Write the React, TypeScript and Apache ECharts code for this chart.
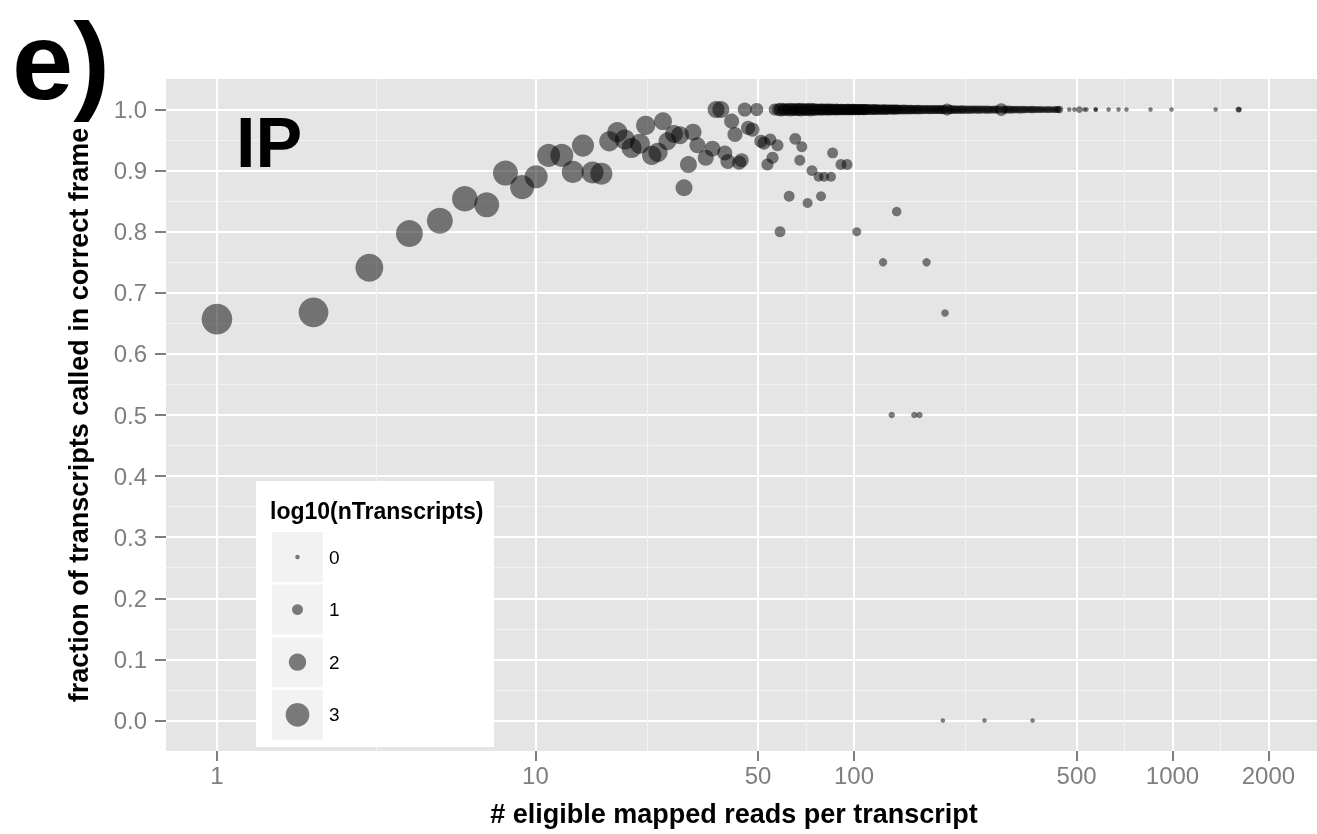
import React, { useEffect, useRef } from "react";
import * as echarts from "echarts";

// Axis breaks
const X_TICKS = [1, 10, 50, 100, 500, 1000, 2000];
const Y_TICKS = [0, 0.1, 0.2, 0.3, 0.4, 0.5, 0.6, 0.7, 0.8, 0.9, 1.0];
const LEGEND_VALUES = [0, 1, 2, 3];

// Panel limits (ggplot expanded range)
const X_MIN = 0.692;
const X_MAX = 2842;
const Y_MIN = -0.05;
const Y_MAX = 1.05;

// [reads per transcript, fraction in correct frame, log10(nTranscripts)]
const OTHER_POINTS: [number, number, number][] = [
  [1.0, 0.657, 4.1], [2.01, 0.668, 3.95], [3.01, 0.741, 3.65], [4.02, 0.797, 3.5],
  [5.01, 0.818, 3.35], [6.0, 0.854, 3.3], [7.03, 0.844, 3.2], [8.05, 0.896, 3.2],
  [9.08, 0.873, 3.05], [10.05, 0.89, 2.9], [11.0, 0.925, 2.9], [12.1, 0.925, 2.9],
  [13.1, 0.898, 2.75], [14.1, 0.941, 2.75], [15.1, 0.897, 2.75], [16.1, 0.895, 2.75],
  [17.05, 0.948, 2.45], [18.07, 0.963, 2.45], [19.09, 0.951, 2.45], [20.04, 0.937, 2.45],
  [21.28, 0.944, 2.45], [22.18, 0.974, 2.3], [23.17, 0.925, 2.3], [24.25, 0.93, 2.3],
  [25.14, 0.981, 2.1], [25.96, 0.948, 2.1], [27.22, 0.96, 2.1], [28.43, 0.958, 2.1],
  [29.27, 0.872, 1.95], [30.22, 0.91, 1.95], [31.24, 0.963, 1.95], [32.25, 0.9415, 1.8],
  [34.24, 0.921, 1.8], [35.95, 0.936, 1.8], [36.9, 1.0, 1.95], [38.2, 1.0, 1.95],
  [39.3, 0.929, 1.65], [40.2, 0.915, 1.65], [41.3, 0.981, 1.65], [42.3, 0.959, 1.65],
  [43.6, 0.913, 1.5], [44.4, 0.917, 1.5], [45.4, 1.0, 1.5], [46.5, 0.97, 1.5],
  [48.0, 0.967, 1.5], [49.5, 1.0, 1.35], [51.0, 0.948, 1.35], [52.2, 0.945, 1.35],
  [53.5, 0.91, 1.2], [54.6, 0.951, 1.2], [55.5, 0.921, 1.2], [56.4, 1.0, 1.2],
  [57.5, 0.9415, 1.2], [58.6, 0.8, 1.0], [62.6, 0.858, 1.0], [65.4, 0.952, 1.15],
  [67.6, 0.917, 1.0], [68.6, 0.939, 1.0], [71.5, 0.847, 0.85], [73.8, 0.9, 1.0],
  [77.4, 0.89, 0.85], [78.8, 0.858, 0.85], [80.6, 0.89, 0.85], [84.7, 0.89, 0.85],
  [85.7, 0.929, 1.0], [91.0, 0.91, 1.0], [95.1, 0.91, 1.0], [102.0, 0.8, 0.7],
  [136.2, 0.833, 0.78], [123.4, 0.75, 0.6], [169.0, 0.75, 0.6], [193.1, 0.667, 0.48],
  [131.4, 0.5, 0.3], [154.7, 0.5, 0.3], [160.5, 0.5, 0.3],
  [190.1, 0, 0], [256.9, 0, 0], [363.6, 0, 0],
];

// Points at fraction 1.0: [reads per transcript, log10(nTranscripts)]
const ROW_ONE: [number, number][] = [
  [58, 1.3], [59, 1.45], [60, 1.25], [61, 1.3], [62, 1.2], [63, 1.45], [64, 1.3],
  [65, 1.2], [66, 1.35], [67, 1.25], [68, 1.45], [69, 1.2], [70, 1.3], [71, 1.25],
  [72, 1.2], [73, 1.45], [74, 1.15], [75, 1.25], [76, 1.2], [77, 1.1], [78, 1.2],
  [79, 1.15], [80, 1.2], [81, 1.1], [82, 1.15], [83, 1.2], [84, 1.1], [85, 1.15],
  [86, 1.1], [87, 1.05], [88, 1.15], [89, 1.1], [90, 1.05], [91, 1.1], [92, 1.1],
  [93, 1.05], [94, 1.05], [95, 1.1], [96, 1.1], [97, 1.05], [98, 1.05], [99, 1.1],
  [100, 1.1], [101, 1.05], [102, 1.0], [103, 1.05], [104, 1.05], [105, 1.0], [106, 1.0],
  [107, 1.05], [108, 1.05], [109, 1.0], [110, 1.0], [111.5, 0.95], [113, 0.95],
  [114.5, 1.0], [116, 1.0], [117.5, 0.95], [119, 0.95], [120.5, 0.9], [122, 0.9],
  [123.5, 0.95], [125, 0.95], [126.5, 0.9], [128, 0.9], [129.5, 0.85], [131, 0.85],
  [132.5, 0.9], [134, 0.9], [135.5, 0.85], [137, 0.85], [138.5, 0.8], [140, 0.8],
  [142, 0.85], [144, 0.85], [146, 0.8], [148, 0.8], [150, 0.8], [152, 0.8], [154, 0.75],
  [156, 0.75], [158, 0.8], [160, 0.8], [162.5, 0.75], [165, 0.75], [167.5, 0.7],
  [170, 0.7], [172.5, 0.75], [175, 0.75], [177.5, 0.7], [180, 0.7], [182.5, 0.7],
  [185, 0.7], [187.5, 0.75], [190, 0.75], [193, 0.7], [196, 1.2], [199, 0.7],
  [202, 0.7], [205, 0.65], [208, 0.65], [211, 0.6], [214, 0.6], [217, 0.65], [220, 0.65],
  [223.5, 0.6], [227, 0.6], [230.5, 0.6], [234, 0.6], [237.5, 0.55], [241, 0.55],
  [244.5, 0.6], [248, 0.6], [252, 0.55], [256, 0.55], [260, 0.6], [264, 0.6], [268, 0.5],
  [272, 0.5], [276, 0.55], [280, 0.55], [285, 0.5], [290, 1.3], [294, 0.5], [298, 0.5],
  [302.5, 0.55], [307, 0.55], [311.5, 0.5], [316, 0.5], [320.5, 0.45], [325, 0.45],
  [330, 0.5], [335, 0.5], [340, 0.45], [345, 0.45], [350, 0.4], [355, 0.4], [360, 0.45],
  [365, 0.45], [370.5, 0.4], [376, 0.4], [381.5, 0.4], [387, 0.4], [392.5, 0.35],
  [398, 0.35], [404, 0.4], [410, 0.4], [416, 0.35], [422, 0.35], [428, 0.4], [434, 0.4],
  [438, 0.4], [442, 0.45],
  [474, 0], [492, 0], [510, 0.35], [529, 0], [537, 0], [573, 0], [575, 0], [630, 0],
  [677, 0], [717, 0], [853, 0], [993, 0], [1366, 0], [1610, 0.2], [1618, 0.2],
];

const X_TITLE = "# eligible mapped reads per transcript";
const Y_TITLE = "fraction of transcripts called in correct frame";
const LEGEND_TITLE = "log10(nTranscripts)";

const sizeOf = (v: number) => 4.5 + 6.4 * v;

export default function App() {
  const ref = useRef<HTMLDivElement>(null);

  useEffect(() => {
    const chart = echarts.init(ref.current!, null, { renderer: "svg" });
    const font = '"Liberation Sans", Arial, Helvetica, sans-serif';
    const minorX = X_TICKS.slice(1).map((t, i) => Math.sqrt(t * X_TICKS[i]));
    const minorY = Y_TICKS.slice(1).map((t, i) => (t + Y_TICKS[i]) / 2);

    const pts = [
      ...OTHER_POINTS.map(([r, f, n]) => [r, f, n]),
      ...ROW_ONE.map(([r, n]) => [r, 1, n]),
    ];

    const Z = 100;
    const keyTop = 532;
    const keyPitch = 52.6;
    const legendChildren: any[] = [
      { type: "rect", z: Z, shape: { x: 256, y: 481, width: 238, height: 266 }, style: { fill: "#ffffff" } },
      {
        type: "text", z: Z + 1, x: 270, y: 511,
        style: { text: LEGEND_TITLE, fill: "#000", fontSize: 23, fontWeight: "bold", fontFamily: font, align: "left", verticalAlign: "middle" },
      },
    ];
    LEGEND_VALUES.forEach((v, i) => {
      const y0 = keyTop + i * keyPitch;
      legendChildren.push(
        { type: "rect", z: Z + 1, shape: { x: 272, y: y0, width: 51, height: 50 }, style: { fill: "#f2f2f2" } },
        { type: "circle", z: Z + 2, shape: { cx: 297.5, cy: y0 + 25, r: sizeOf(v) / 2 }, style: { fill: "rgba(0,0,0,0.5)" } },
        {
          type: "text", z: Z + 2, x: 329, y: y0 + 25,
          style: { text: String(v), fill: "#000", fontSize: 19, fontFamily: font, align: "left", verticalAlign: "middle" },
        }
      );
    });

    const grid = { left: 166, top: 79, width: 1151, height: 672, show: true, backgroundColor: "#e5e5e5", borderWidth: 0 };

    chart.setOption({
      animation: false,
      grid,
      xAxis: [
        {
          type: "log", logBase: 10, min: X_MIN, max: X_MAX, gridIndex: 0, position: "bottom",
          axisLine: { show: false, onZero: false },
          axisTick: { show: false, customValues: minorX },
          axisLabel: { show: false },
          splitLine: { show: true, lineStyle: { color: "#f2f2f2", width: 1.2 } },
        },
        {
          type: "log", logBase: 10, min: X_MIN, max: X_MAX, gridIndex: 0, position: "bottom",
          axisLine: { show: false, onZero: false },
          axisTick: { show: true, length: 10, customValues: X_TICKS, lineStyle: { color: "#7f7f7f", width: 2 } },
          axisLabel: {
            show: true, customValues: X_TICKS, margin: 12, color: "#7f7f7f", fontSize: 24, fontFamily: font,
            formatter: (v: number) => String(Math.round(v)),
          },
          splitLine: { show: true, lineStyle: { color: "#ffffff", width: 2 } },
        },
      ],
      yAxis: [
        {
          type: "value", min: Y_MIN, max: Y_MAX, gridIndex: 0, position: "left",
          axisLine: { show: false, onZero: false },
          axisTick: { show: false, customValues: minorY },
          axisLabel: { show: false },
          splitLine: { show: true, lineStyle: { color: "#f2f2f2", width: 1.2 } },
        },
        {
          type: "value", min: Y_MIN, max: Y_MAX, gridIndex: 0, position: "left",
          axisLine: { show: false, onZero: false },
          axisTick: { show: true, length: 11, customValues: Y_TICKS, lineStyle: { color: "#7f7f7f", width: 2 } },
          axisLabel: {
            show: true, customValues: Y_TICKS, margin: 19, color: "#7f7f7f", fontSize: 24, fontFamily: font,
            formatter: (v: number) => v.toFixed(1),
          },
          splitLine: { show: true, lineStyle: { color: "#ffffff", width: 2 } },
        },
      ],
      series: [
        {
          type: "scatter",
          xAxisIndex: 1,
          yAxisIndex: 1,
          data: pts,
          symbol: "circle",
          symbolSize: (d: number[]) => sizeOf(d[2]),
          itemStyle: { color: "#000000", opacity: 0.5, borderWidth: 0 },
          silent: true,
        },
      ],
      graphic: [
        {
          type: "text", x: 12, y: 60, z: Z,
          style: { text: "e)", fill: "#000", fontSize: 110, fontWeight: "bold", fontFamily: font, align: "left", verticalAlign: "middle" },
        },
        {
          type: "text", x: 236, y: 143, z: Z,
          style: { text: "IP", fill: "#000", fontSize: 70, fontWeight: "bold", fontFamily: font, align: "left", verticalAlign: "middle" },
        },
        {
          type: "text", x: 734, y: 814, z: Z,
          style: { text: X_TITLE, fill: "#000", fontSize: 27, fontWeight: "bold", fontFamily: font, align: "center", verticalAlign: "middle" },
        },
        {
          type: "text", x: 79, y: 415, rotation: Math.PI / 2, z: Z,
          style: { text: Y_TITLE, fill: "#000", fontSize: 27, fontWeight: "bold", fontFamily: font, align: "center", verticalAlign: "middle" },
        },
        { type: "group", z: Z, children: legendChildren },
      ],
    });

    return () => chart.dispose();
  }, []);

  return <div ref={ref} style={{ position: "fixed", left: 0, top: 0, width: 1317, height: 834 }} />;
}
